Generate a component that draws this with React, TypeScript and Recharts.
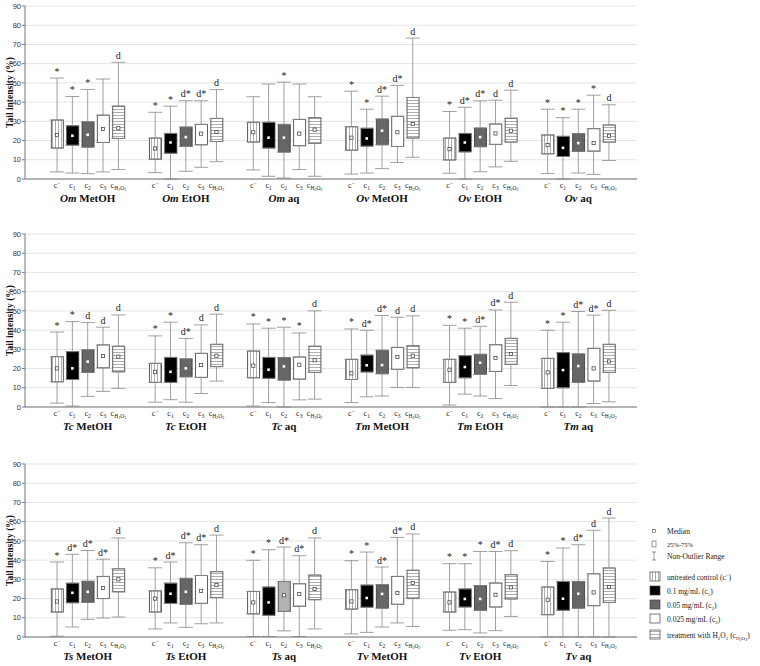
import React from "react";
import { ComposedChart, Bar, Cell, Scatter, ErrorBar, LabelList, XAxis, YAxis, CartesianGrid } from "recharts";

// each box: [min, q1, median, q3, max]  order: c-, c1, c2, c3, cH2O2
const omMetOH = [[3.7, 16.1, 22.9, 30.7, 52.5], [3.1, 17.6, 22.5, 27.7, 42.9], [2.8, 16.6, 23.0, 29.7, 46.6], [3.7, 19.0, 26.0, 33.2, 52.0], [4.9, 21.1, 26.4, 37.9, 60.7]];
const omEtOH = [[3.3, 10.3, 15.9, 21.3, 34.7], [0, 13.4, 19.0, 23.7, 37.9], [4.0, 16.9, 21.8, 27.0, 40.7], [6.1, 17.8, 23.6, 28.4, 40.7], [9.0, 19.5, 24.5, 31.5, 46.5]];
const omAq = [[4.7, 19.2, 24.3, 29.5, 42.8], [1.4, 16.1, 21.5, 29.5, 49.4], [0.5, 14.0, 21.5, 28.4, 50.4], [4.9, 17.3, 23.6, 31.0, 49.4], [1.4, 18.5, 25.7, 31.9, 42.8]];
const ovMetOH = [[2.6, 15.0, 21.5, 27.2, 45.7], [3.1, 17.1, 21.1, 26.4, 36.3], [5.4, 17.8, 25.1, 31.2, 43.1], [8.6, 16.9, 24.3, 32.6, 48.7], [11.3, 21.3, 28.6, 42.4, 73.3]];
const ovEtOH = [[3.0, 9.9, 15.5, 21.3, 35.1], [0, 14.1, 19.0, 23.7, 37.3], [3.8, 16.8, 21.8, 26.5, 40.7], [6.3, 18.0, 23.7, 28.6, 41.0], [9.2, 19.2, 25.1, 31.6, 46.2]];
const ovAq = [[2.8, 13.1, 17.6, 22.9, 36.3], [0, 11.7, 16.2, 22.2, 31.9], [3.1, 14.3, 18.7, 23.6, 36.3], [2.4, 14.5, 18.7, 26.2, 43.6], [9.6, 19.2, 22.5, 28.1, 38.6]];

const tcMetOH = [[2.0, 13.1, 20.1, 26.2, 39.0], [0.5, 14.3, 20.1, 28.8, 44.4], [5.5, 18.0, 23.6, 29.7, 43.9], [8.1, 20.4, 26.5, 32.3, 41.5], [9.7, 18.3, 26.2, 31.6, 47.9]];
const tcEtOH = [[2.5, 12.8, 18.3, 22.7, 37.0], [3.8, 12.8, 18.3, 25.8, 44.1], [2.5, 15.7, 20.1, 25.0, 35.7], [7.0, 15.4, 21.8, 27.9, 42.7], [13.5, 21.0, 26.7, 32.6, 48.3]];
const tcAq = [[0.5, 15.2, 21.5, 29.1, 43.2], [2.3, 14.9, 19.4, 25.8, 41.0], [0, 14.0, 21.1, 25.7, 41.5], [3.7, 14.5, 22.0, 26.0, 38.5], [4.1, 18.0, 24.3, 31.6, 50.0]];
const tmMetOH = [[2.3, 14.3, 17.5, 24.8, 40.6], [5.3, 18.2, 21.7, 27.0, 39.9], [5.7, 17.3, 21.8, 29.5, 47.6], [10.2, 19.6, 26.0, 31.0, 46.7], [10.2, 20.4, 26.7, 31.9, 47.4]];
const tmEtOH = [[1.0, 12.8, 19.4, 24.8, 42.5], [6.7, 15.2, 20.8, 26.7, 41.0], [5.7, 17.0, 23.0, 27.4, 42.0], [4.4, 18.5, 25.5, 32.4, 50.5], [11.2, 22.2, 27.6, 35.7, 54.5]];
const tmAq = [[0, 9.7, 18.0, 25.3, 39.9], [0, 10.0, 19.2, 28.3, 44.1], [0, 12.8, 21.3, 27.6, 49.7], [1.8, 13.5, 20.1, 30.5, 47.8], [2.7, 18.0, 23.7, 32.6, 50.3]];

const tsMetOH = [[0.4, 13.0, 18.5, 25.0, 39.0], [5.2, 17.8, 23.0, 28.0, 43.0], [9.2, 18.0, 23.5, 29.0, 45.0], [9.9, 20.0, 25.5, 31.5, 40.5], [10.4, 23.5, 30.0, 35.5, 51.5]];
const tsEtOH = [[4.2, 13.0, 20.0, 24.0, 36.0], [7.3, 17.5, 22.5, 28.0, 39.0], [5.0, 17.0, 23.5, 30.5, 49.0], [6.9, 17.5, 24.0, 32.0, 48.0], [7.3, 20.5, 27.0, 34.0, 53.0]];
const tsAq = [[0.3, 12.0, 18.0, 23.7, 39.9], [0.3, 11.3, 18.0, 26.0, 45.4], [3.2, 13.3, 21.7, 28.9, 46.8], [0.3, 16.0, 22.4, 27.7, 42.3], [4.2, 19.4, 25.0, 32.2, 51.5]];
const tvMetOH = [[1.6, 14.5, 18.5, 24.6, 39.7], [2.4, 15.5, 20.3, 27.0, 44.2], [5.2, 15.0, 22.4, 27.2, 36.4], [7.3, 17.0, 22.9, 31.5, 51.8], [5.5, 20.0, 28.1, 34.7, 53.6]];
const tvEtOH = [[3.5, 13.0, 18.0, 23.4, 38.1], [3.8, 15.6, 19.8, 25.0, 38.1], [2.1, 13.9, 19.8, 26.7, 44.5], [3.3, 15.6, 22.0, 28.1, 44.5], [10.7, 19.8, 25.8, 32.4, 44.9]];
const tvAq = [[0, 11.6, 19.4, 26.0, 39.3], [0, 13.9, 19.9, 28.9, 46.3], [0, 15.0, 22.5, 28.9, 48.0], [0, 16.3, 23.2, 32.9, 55.5], [0, 18.0, 26.0, 35.9, 61.9]];

// significance marks over each whisker
const topMarks = [["*", "*", "*", "", "d"], ["*", "*", "d*", "d*", "d"], ["", "", "*", "", ""], ["*", "*", "d*", "d*", "d"], ["*", "d*", "d*", "d", "d"], ["*", "*", "*", "*", "d"]];
const midMarks = [["*", "*", "d", "d", "d"], ["*", "*", "d*", "d", "d"], ["*", "*", "*", "*", "d"], ["*", "d*", "d*", "d", "d"], ["*", "*", "d*", "d*", "d"], ["*", "*", "d*", "d*", "d"]];
const botMarks = [["*", "d*", "d*", "d*", "d"], ["*", "d*", "d*", "d*", "d"], ["*", "*", "d*", "d*", "d"], ["*", "*", "d*", "d*", "d"], ["*", "*", "*", "d*", "d"], ["*", "*", "d*", "d", "d"]];

const topNames = [["Om", "MetOH"], ["Om", "EtOH"], ["Om", "aq"], ["Ov", "MetOH"], ["Ov", "EtOH"], ["Ov", "aq"]];
const midNames = [["Tc", "MetOH"], ["Tc", "EtOH"], ["Tc", "aq"], ["Tm", "MetOH"], ["Tm", "EtOH"], ["Tm", "aq"]];
const botNames = [["Ts", "MetOH"], ["Ts", "EtOH"], ["Ts", "aq"], ["Tv", "MetOH"], ["Tv", "EtOH"], ["Tv", "aq"]];

const yTicks = [0, 10, 20, 30, 40, 50, 60, 70, 80, 90];

const GROUP_STEP = 6.4;
const X_DOMAIN: [number, number] = [-2.09, 37.83];
const SERIF = "'Liberation Serif', 'Times New Roman', serif";
const SANS = "'Liberation Sans', Arial, sans-serif";

const panels = [
  { id: "p1", top: 0, stats: [omMetOH, omEtOH, omAq, ovMetOH, ovEtOH, ovAq], marks: topMarks, names: topNames, lightC2: -1 },
  { id: "p2", top: 228, stats: [tcMetOH, tcEtOH, tcAq, tmMetOH, tmEtOH, tmAq], marks: midMarks, names: midNames, lightC2: -1 },
  { id: "p3", top: 458, stats: [tsMetOH, tsEtOH, tsAq, tvMetOH, tvEtOH, tvAq], marks: botMarks, names: botNames, lightC2: 2 },
];

function buildRows(p: any) {
  const rows: any[] = [];
  p.stats.forEach((grp: number[][], g: number) => {
    grp.forEach((s, k) => {
      const [min, q1, med, q3, max] = s;
      rows.push({
        x: g * GROUP_STEP + k,
        g,
        k,
        light: g === p.lightC2 && k === 2,
        min,
        med,
        max,
        box: [q1, q3],
        upErr: [max - q3, 0],
        loErr: [0, q1 - min],
        mark: p.marks[g][k],
      });
    });
  });
  return rows;
}

function CLabel({ k, x, y }: { k: number; x: number; y: number }) {
  const fs = 8;
  const sub = 5.5;
  return (
    <text x={x} y={y} textAnchor="middle" fontFamily={SERIF} fontSize={fs} fill="#222">
      c
      {k === 0 && <tspan fontSize={sub} dy={-3}>−</tspan>}
      {k > 0 && k < 4 && <tspan fontSize={sub} dy={2}>{k}</tspan>}
      {k === 4 && (
        <>
          <tspan fontSize={sub} dy={2}>H</tspan>
          <tspan fontSize={4} dy={1}>2</tspan>
          <tspan fontSize={sub} dy={-1}>O</tspan>
          <tspan fontSize={4} dy={1}>2</tspan>
        </>
      )}
    </text>
  );
}

const noShape = () => <g />;

function MedianMark(props: any) {
  const { cx, cy, payload } = props;
  const dark = payload.k === 1 || (payload.k === 2 && !payload.light);
  if (dark) return <rect x={cx - 1.3} y={cy - 1.3} width={2.6} height={2.6} fill="#fff" />;
  return <rect x={cx - 1.6} y={cy - 1.6} width={3.2} height={3.2} fill="#fff" stroke="#333" strokeWidth={0.7} />;
}

function MarkLabel(props: any) {
  const { x, y, width, value } = props;
  if (!value) return null;
  return (
    <text x={x + width / 2} y={y + 1} textAnchor="middle" fontFamily={SERIF} fontSize={10} fill="#222">
      {value}
    </text>
  );
}

function Panel({ p }: { p: any }) {
  const rows = buildRows(p);
  const ticks = rows.map((r) => r.x);
  const fillOf = (r: any) => {
    if (r.k === 0) return `url(#vl-${p.id})`;
    if (r.k === 1) return "#000";
    if (r.k === 2) return r.light ? "#b2b2b2" : "#666";
    if (r.k === 3) return "#fff";
    return `url(#hl-${p.id})`;
  };
  const renderTick = (props: any) => {
    const { x, y, payload } = props;
    const row = rows.find((r) => Math.abs(r.x - payload.value) < 1e-6);
    if (!row) return <g />;
    return (
      <g>
        <CLabel k={row.k} x={x} y={y + 9} />
        {row.k === 2 && (
          <text x={x} y={y + 23} textAnchor="middle" fontFamily={SERIF} fontSize={11} fontWeight="bold" fill="#111">
            <tspan fontStyle="italic">{p.names[row.g][0]}</tspan> {p.names[row.g][1]}
          </text>
        )}
      </g>
    );
  };
  const yLabel = (props: any) => {
    const vb = props.viewBox;
    return (
      <text
        transform={`translate(${13},${vb.y + vb.height / 2}) rotate(-90)`}
        textAnchor="middle"
        fontFamily={SERIF}
        fontSize={9.5}
        fontWeight="bold"
        fill="#111"
      >
        Tail intensity (%)
      </text>
    );
  };
  return (
    <ComposedChart width={650} height={209} data={rows} margin={{ top: 6, right: 13, bottom: 0, left: 0 }}>
      <defs>
        <pattern id={`vl-${p.id}`} width={3} height={3} patternUnits="userSpaceOnUse">
          <rect width={3} height={3} fill="#fff" />
          <line x1={1.5} y1={0} x2={1.5} y2={3} stroke="#777" strokeWidth={0.6} />
        </pattern>
        <pattern id={`hl-${p.id}`} width={3} height={3} patternUnits="userSpaceOnUse">
          <rect width={3} height={3} fill="#fff" />
          <line x1={0} y1={1.5} x2={3} y2={1.5} stroke="#777" strokeWidth={0.6} />
        </pattern>
      </defs>
      <CartesianGrid vertical={false} stroke="#e4e4e4" />
      <XAxis
        dataKey="x"
        type="number"
        domain={X_DOMAIN}
        allowDataOverflow
        ticks={ticks}
        interval={0}
        tick={renderTick}
        tickLine={false}
        tickSize={0}
        tickMargin={0}
        height={30}
        axisLine={{ stroke: "#777" }}
      />
      <XAxis xAxisId="top" orientation="top" type="number" domain={X_DOMAIN} allowDataOverflow height={0} tick={false} tickLine={false} axisLine={{ stroke: "#777" }} />
      <YAxis
        domain={[0, 90]}
        ticks={yTicks}
        interval={0}
        allowDataOverflow
        width={25}
        tickSize={3}
        tickMargin={1}
        tick={{ fontSize: 7.5, fill: "#333", fontFamily: SANS }}
        tickLine={{ stroke: "#777" }}
        axisLine={{ stroke: "#777" }}
        label={{ content: yLabel }}
      />
      <YAxis yAxisId="right" orientation="right" domain={[0, 90]} ticks={yTicks} width={0} mirror tick={false} tickSize={3} tickLine={{ stroke: "#777" }} axisLine={{ stroke: "#777" }} />
      <Bar dataKey="box" barSize={12} isAnimationActive={false} stroke="#333" strokeWidth={0.8}>
        {rows.map((r, i) => (
          <Cell key={i} fill={fillOf(r)} />
        ))}
      </Bar>
      <Scatter dataKey="max" isAnimationActive={false} shape={noShape}>
        <ErrorBar dataKey="upErr" direction="y" width={7} stroke="#888" strokeWidth={0.8} />
        <LabelList dataKey="mark" content={MarkLabel} />
      </Scatter>
      <Scatter dataKey="min" isAnimationActive={false} shape={noShape}>
        <ErrorBar dataKey="loErr" direction="y" width={7} stroke="#888" strokeWidth={0.8} />
      </Scatter>
      <Scatter dataKey="med" isAnimationActive={false} shape={MedianMark} />
    </ComposedChart>
  );
}

const legendKinds = [
  { text: "untreated control (c", sub: "−", sup: true },
  { text: "0.1 mg/mL (c", sub: "1" },
  { text: "0.05 mg/mL (c", sub: "2" },
  { text: "0.025 mg/mL (c", sub: "3" },
  { text: "treatment with H", sub: "H2O2", h2o2: true },
];

function LegendBox() {
  const fills = ["url(#vl-leg)", "#000", "#666", "#fff", "url(#hl-leg)"];
  const rowsY = [578, 592, 606, 620, 636];
  const fs = 7.5;
  return (
    <svg width={760} height={666} style={{ position: "absolute", left: 0, top: 0, pointerEvents: "none" }}>
      <defs>
        <pattern id="vl-leg" width={3} height={3} patternUnits="userSpaceOnUse">
          <rect width={3} height={3} fill="#fff" />
          <line x1={1.5} y1={0} x2={1.5} y2={3} stroke="#777" strokeWidth={0.6} />
        </pattern>
        <pattern id="hl-leg" width={3} height={3} patternUnits="userSpaceOnUse">
          <rect width={3} height={3} fill="#fff" />
          <line x1={0} y1={1.5} x2={3} y2={1.5} stroke="#777" strokeWidth={0.6} />
        </pattern>
      </defs>
      <g fontFamily={SERIF} fontSize={fs} fill="#222">
        <rect x={652.5} y={529.5} width={3} height={3} fill="#fff" stroke="#555" strokeWidth={0.6} />
        <text x={667} y={534}>Median</text>
        <rect x={652} y={541} width={4} height={6} fill="#fff" stroke="#555" strokeWidth={0.6} />
        <text x={667} y={547} fontSize={6.5}>25%-75%</text>
        <line x1={654} y1={552} x2={654} y2={560} stroke="#555" strokeWidth={0.6} />
        <line x1={652} y1={552} x2={656} y2={552} stroke="#555" strokeWidth={0.6} />
        <line x1={652} y1={560} x2={656} y2={560} stroke="#555" strokeWidth={0.6} />
        <text x={667} y={559}>Non-Outlier Range</text>
        {legendKinds.map((it, i) => (
          <g key={i}>
            <rect x={650} y={rowsY[i] - 6} width={10} height={9} fill={fills[i]} stroke="#444" strokeWidth={0.7} />
            <text x={667} y={rowsY[i] + 2}>
              {it.h2o2 ? (
                <>
                  treatment with H<tspan fontSize={5} dy={2}>2</tspan>
                  <tspan dy={-2}>O</tspan>
                  <tspan fontSize={5} dy={2}>2</tspan>
                  <tspan dy={-2}> (c</tspan>
                  <tspan fontSize={5} dy={2}>H</tspan>
                  <tspan fontSize={4} dy={1}>2</tspan>
                  <tspan fontSize={5} dy={-1}>O</tspan>
                  <tspan fontSize={4} dy={1}>2</tspan>
                  <tspan dy={-3}>)</tspan>
                </>
              ) : (
                <>
                  {it.text}
                  <tspan fontSize={5} dy={it.sup ? -3 : 2}>{it.sub}</tspan>
                  <tspan dy={it.sup ? 3 : -2}>)</tspan>
                </>
              )}
            </text>
          </g>
        ))}
      </g>
    </svg>
  );
}

export default function App() {
  return (
    <div style={{ position: "absolute", left: 0, top: 0, width: 760, height: 666, background: "#fff", overflow: "hidden" }}>
      {panels.map((p) => (
        <div key={p.id} style={{ position: "absolute", left: 0, top: p.top }}>
          <Panel p={p} />
        </div>
      ))}
      <LegendBox />
    </div>
  );
}
